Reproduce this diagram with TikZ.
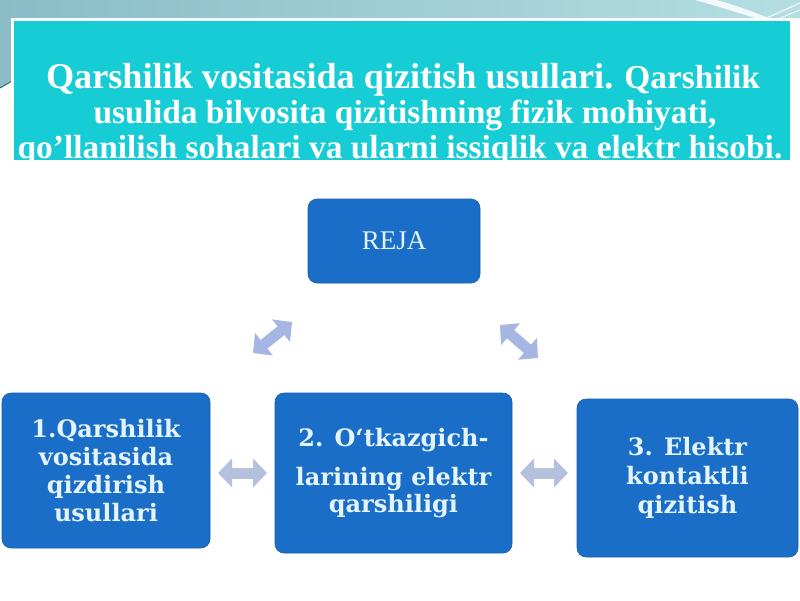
\documentclass[tikz,border=0pt]{standalone}
\usepackage{fontspec}
\setmainfont{Liberation Serif}
\newfontfamily\boxfont{DejaVu Serif}
\usetikzlibrary{arrows.meta}
\definecolor{topteal}{RGB}{138,189,199}
\definecolor{topteal2}{RGB}{180,222,226}
\definecolor{titlecyan}{RGB}{22,205,214}
\definecolor{boxblue}{RGB}{26,110,200}
\definecolor{boxtext}{RGB}{228,244,252}
\definecolor{arrowblue}{RGB}{166,182,226}
\definecolor{arrowgray}{RGB}{180,192,220}
\begin{document}
\begin{tikzpicture}[x=1pt,y=-1pt,
  bluebox/.style={draw=boxblue!85!black, line width=0.6pt, fill=boxblue, rounded corners=9pt,
    text=boxtext, inner sep=0pt, align=center,
    font=\boxfont\bfseries\fontsize{24}{28}\selectfont},
  titleline/.style={anchor=base, text=white, inner sep=0pt,
    font=\bfseries\fontsize{33.4}{36}\selectfont},
  dblarrow/.style={line width=11pt,
    {Triangle[length=14pt,width=28pt]}-{Triangle[length=14pt,width=28pt]}}
]
\useasboundingbox (0,0) rectangle (800,600);
\fill[white] (0,0) rectangle (800,600);
% top decorative band
\shade[left color=topteal, right color=topteal2] (0,0) -- (800,0) -- (800,18) -- (14,80) -- (0,88) -- cycle;
\fill[white, opacity=0.85] (695,0) .. controls (720,7) and (742,14) .. (768,22) -- (778,22) .. controls (752,11) and (732,4) .. (716,0) -- cycle;
\draw[white, line width=1pt] (760,21) -- (800,3);
\draw[white, line width=0.8pt] (770,22) -- (800,10);
\draw[teal!70!black, line width=0.8pt] (0,88) -- (14,80);
% title box
\fill[white] (11,18) rectangle (793,160);
\begin{scope}
\clip (14,21) rectangle (790,160);
\fill[titlecyan] (14,21) rectangle (790,160);
\node[titleline] (t1) at (403,88) {{\fontsize{36.2}{38}\selectfont Qarshilik vositasida qizitish usullari.} Qarshilik};
\node[titleline] (t2) at (405,123.5) {usulida bilvosita qizitishning fizik mohiyati,};
\node[titleline] (t3) at (400,158.5) {qo’llanilish sohalari va ularni issiqlik va elektr hisobi.};
\end{scope}
% boxes
\node[bluebox, minimum width=172pt, minimum height=84pt, font=\fontsize{27}{30}\selectfont] (reja) at (394,241) {REJA};
\node[bluebox, minimum width=208pt, minimum height=155pt] (b1) at (106,470.5)
  {1.Qarshilik\\vositasida\\qizdirish\\usullari};
\node[bluebox, minimum width=237pt, minimum height=160pt, font=\boxfont\bfseries\fontsize{24}{27}\selectfont] (b2) at (393.5,473)
  {2. O‘tkazgich-\\[12pt]larining elektr\\qarshiligi};
\node[bluebox, minimum width=221pt, minimum height=158pt, font=\boxfont\bfseries\fontsize{24}{29}\selectfont] (b3) at (687.5,478)
  {3. Elektr\\kontaktli\\qizitish};
% arrows
\coordinate (a1s) at (253,353);
\coordinate (a1e) at (292,322);
\coordinate (a2s) at (500,325);
\coordinate (a2e) at (538,358);
\coordinate (a3s) at (218,473);
\coordinate (a3e) at (267,473);
\coordinate (a4s) at (520,473);
\coordinate (a4e) at (568,473);
\draw[dblarrow, arrowblue] (a1s) -- (a1e);
\draw[dblarrow, arrowblue] (a2s) -- (a2e);
\draw[dblarrow, arrowgray] (a3s) -- (a3e);
\draw[dblarrow, arrowgray] (a4s) -- (a4e);
\end{tikzpicture}
\end{document}
